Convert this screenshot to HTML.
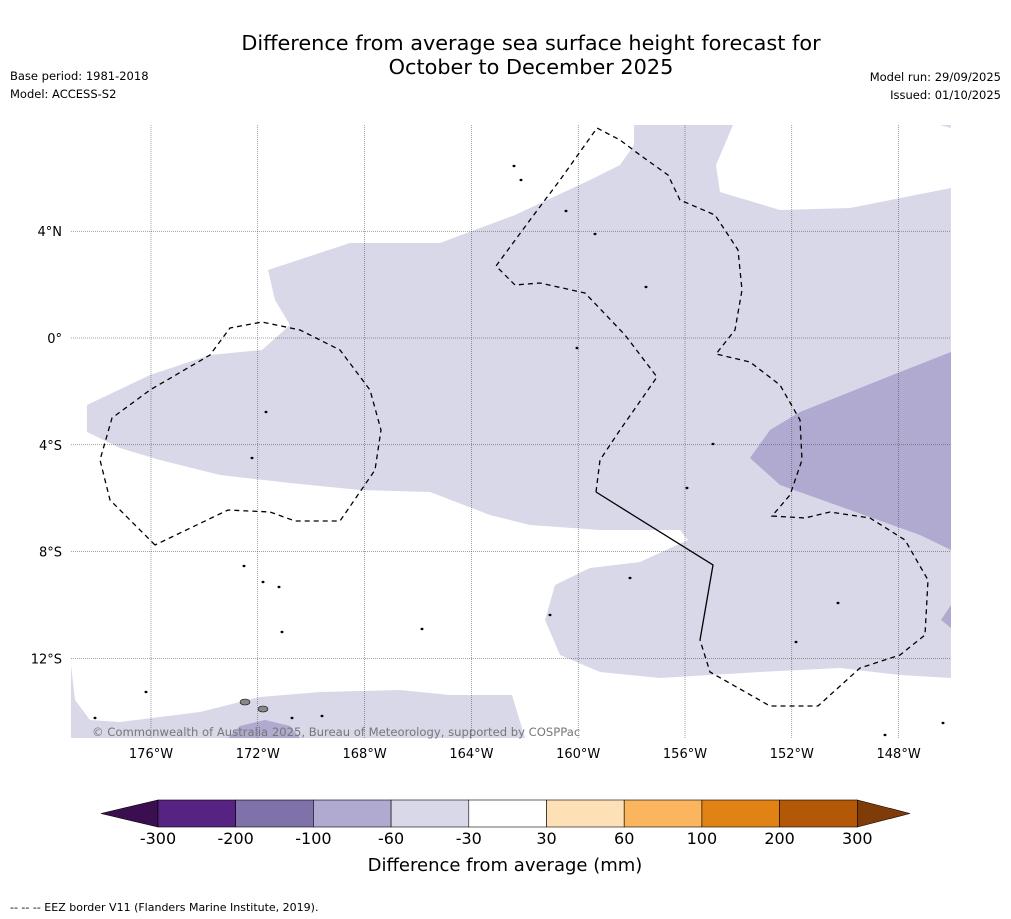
<!DOCTYPE html>
<html><head><meta charset="utf-8">
<style>
body{margin:0;background:#fff;font-family:"DejaVu Sans","Liberation Sans",sans-serif;}
#wrap{position:relative;width:1011px;height:919px;overflow:hidden;background:#fff}
svg text{font-family:"DejaVu Sans","Liberation Sans",sans-serif;}
</style></head>
<body>
<div id="wrap">
<svg id="svg" width="1011" height="919" xmlns="http://www.w3.org/2000/svg">
<text x="531" y="50" font-size="20.8" text-anchor="middle" fill="#000">Difference from average sea surface height forecast for</text>
<text x="531" y="74" font-size="20.8" text-anchor="middle" fill="#000">October to December 2025</text>
<text x="10" y="80" font-size="11.5">Base period: 1981-2018</text>
<text x="10" y="98" font-size="11.5">Model: ACCESS-S2</text>
<text x="1001" y="81" font-size="11.5" text-anchor="end">Model run: 29/09/2025</text>
<text x="1001" y="99" font-size="11.5" text-anchor="end">Issued: 01/10/2025</text>
<g id="map"></g>
<g id="cbar"></g>
<text x="505" y="871" font-size="18" text-anchor="middle">Difference from average (mm)</text>
<text x="10" y="911" font-size="11">--  --  -- EEZ border V11 (Flanders Marine Institute, 2019).</text>
</svg>
</div>
<script>
const lonTicks=[-176,-172,-168,-164,-160,-156,-152,-148];
const latTicks=[4,0,-4,-8,-12];
const cbLevels=[-300,-200,-100,-60,-30,30,60,100,200,300];
const cbColors=["#3b0f4f","#562382","#7f71aa","#b0aad0","#d8d8e9","#ffffff","#fde0b6","#fbb55e","#e08214","#b35806","#7f3b08"];
const P=(a)=>a.map(p=>[-176+(p[0]-151)/26.7,(338-p[1])/26.7]);
const lightMain=P([[268,270],[350,243],[440,243],[515,215],[590,180],[620,165],[634,145],[634,125],[733,125],[716,165],[720,192],[780,210],[850,208],[951,188],[951,678],[900,675],[840,668],[760,672],[660,678],[600,672],[560,655],[545,620],[555,585],[590,568],[640,562],[688,540],[680,530],[600,530],[530,525],[490,515],[430,492],[360,490],[290,483],[220,475],[160,460],[120,448],[87,432],[87,405],[150,375],[210,355],[262,350],[290,325],[275,300]]);
const lightBottom=P([[71,665],[75,700],[90,720],[120,722],[200,712],[260,697],[320,692],[400,690],[450,695],[512,695],[525,738],[71,738]]);
const lightTopRight=P([[940,125],[951,125],[951,128]]);
const darkRight=P([[951,352],[900,372],[850,392],[800,412],[770,430],[750,458],[780,485],[850,510],[920,535],[951,550]]);
const darkBottom=P([[228,738],[240,726],[265,720],[290,726],[300,738]]);
const darkEdge=P([[951,605],[951,628],[941,620]]);
const eezLeft=P([[155,545],[110,500],[100,460],[112,418],[150,390],[210,355],[230,328],[262,322],[300,330],[340,350],[370,390],[381,430],[375,470],[340,521],[295,521],[270,512],[228,510],[155,545]]);
const eezMidA=P([[596,492],[600,460],[620,430],[657,377],[625,335],[585,293],[540,283],[515,285],[496,266],[530,220],[560,180],[597,128],[620,140],[640,155],[668,175],[680,200],[715,215],[738,250],[742,290],[735,330],[716,354],[750,362],[780,385],[800,420],[802,460],[790,495],[772,516],[805,518],[830,512],[870,518],[905,540],[928,580],[925,635],[900,655],[860,668],[818,706],[770,706],[710,672],[700,640]]);
const eezSolid=P([[596,492],[713,565],[700,640]]);
const islands=P([[245,702],[263,709],[292,718],[322,716],[146,692],[95,718],[646,287],[595,234],[630,578],[550,615],[266,412],[252,458],[838,603],[885,735],[943,723],[514,166],[521,180],[566,211],[577,348],[713,444],[687,488],[244,566],[263,582],[279,587],[282,632],[422,629],[796,642]]);

const X=l=>151+(l+176)*26.7, Y=t=>338-t*26.7;
const NS="http://www.w3.org/2000/svg";
const map=document.getElementById('map');
function mk(tag,attrs,parent){const e=document.createElementNS(NS,tag);for(const k in attrs)e.setAttribute(k,attrs[k]);(parent||map).appendChild(e);return e;}
const pts=a=>a.map(p=>X(p[0]).toFixed(1)+","+Y(p[1]).toFixed(1)).join(" ");
const x0=71,x1=951,y0=125,y1=738;
const defs=mk('defs',{});const cp=mk('clipPath',{id:'clip'},defs);mk('rect',{x:x0,y:y0,width:x1-x0,height:y1-y0},cp);
const g=mk('g',{'clip-path':'url(#clip)'});
[[lightMain,"#d8d8e9"],[lightBottom,"#d8d8e9"],[lightTopRight,"#d8d8e9"],[darkRight,"#b0aad0"],[darkBottom,"#b0aad0"],[darkEdge,"#b0aad0"]].forEach((r,i)=>{
 const e=mk('polygon',{points:pts(r[0]),fill:r[1]},g);
 
 
});
lonTicks.forEach(l=>{
 const x=X(l);
 const e=mk('line',{x1:x,x2:x,y1:y0,y2:y1,stroke:"#444","stroke-width":0.5,"stroke-dasharray":"1,1"},g);
 
 
 const t=mk('text',{x:x,y:758,"font-size":13,"text-anchor":"middle"});t.textContent=(-l)+"°W";
 
 
});
latTicks.forEach(l=>{
 const y=Y(l);
 const e=mk('line',{x1:x0,x2:x1,y1:y,y2:y,stroke:"#444","stroke-width":0.5,"stroke-dasharray":"1,1"},g);
 
 
 const t=mk('text',{x:62,y:y+5,"font-size":13,"text-anchor":"end"});t.textContent=l==0?"0°":Math.abs(l)+"°"+(l>0?"N":"S");
 
 
});
const e1=mk('polyline',{points:pts(eezLeft),fill:"none",stroke:"#000","stroke-width":1.3,"stroke-dasharray":"5,4"},g);


const e2=mk('polyline',{points:pts(eezMidA),fill:"none",stroke:"#000","stroke-width":1.3,"stroke-dasharray":"5,4"},g);


const e3=mk('polyline',{points:pts(eezSolid),fill:"none",stroke:"#000","stroke-width":1.3},g);


islands.forEach((p,i)=>{
 const big=i<2;
 const e=mk('ellipse',{cx:X(p[0]),cy:Y(p[1]),rx:big?5:1.2,ry:big?3:0.9,fill:big?"#888":"#000",stroke:"#000","stroke-width":0.6},g);
 
 
});
const cr=mk('text',{x:92,y:736,"font-size":11.6,fill:"#777"});cr.textContent="© Commonwealth of Australia 2025, Bureau of Meteorology, supported by COSPPac";



const cb=document.getElementById('cbar');
const cbx0=158,cbw=77.7,cby=800,cbh=27;
const n=cbLevels.length;
const tl=mk('polygon',{points:`${cbx0},${cby} ${cbx0},${cby+cbh} 101,${cby+cbh/2}`,fill:cbColors[0],stroke:"#000","stroke-width":0.6},cb);


for(let i=0;i<n-1;i++){
 const r=mk('rect',{x:cbx0+i*cbw,y:cby,width:cbw,height:cbh,fill:cbColors[i+1],stroke:"#000","stroke-width":0.6},cb);
 
 
}
const xe=cbx0+(n-1)*cbw;
const tr=mk('polygon',{points:`${xe},${cby} ${xe},${cby+cbh} 910,${cby+cbh/2}`,fill:cbColors[n],stroke:"#000","stroke-width":0.6},cb);


cbLevels.forEach((v,i)=>{
 const t=mk('text',{x:cbx0+i*cbw,y:844,"font-size":16,"text-anchor":"middle"},cb);t.textContent=v;
 
 
});
</script>
</body></html>
